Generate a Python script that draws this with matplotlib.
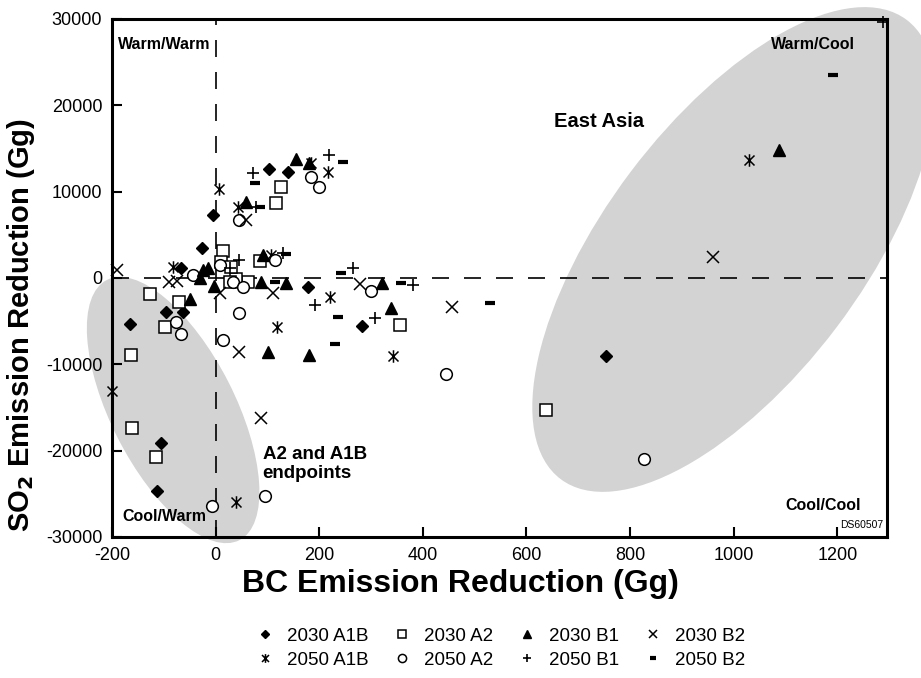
import matplotlib
matplotlib.use("Agg")
import matplotlib.pyplot as plt
import matplotlib.transforms as mtransforms
from matplotlib.patches import Ellipse
from matplotlib.path import Path

plt.rcParams['font.family'] = ['Liberation Sans', 'DejaVu Sans']
plt.rcParams['axes.unicode_minus'] = False

# BC (x) and SO2 (y) emission reductions, Gg
a1b_2030_x = [-166, -95, -63, -105, -114, -26, -5, 104, 140, 178, 283, 754, -66]
a1b_2030_y = [-5330, -3900, -3900, -19070, -24650, 3440, 7300, 12590, 12300, -1000, -5600, -9050, 1120]

a2_2030_x = [-126, -163, -161, -116, -97, -70, 14, 10, 85, 62, 117, 127, 356, 637, 40, 30, 27]
a2_2030_y = [-1850, -8900, -17400, -20760, -5640, -2740, 3100, 1800, 2000, -430, 8650, 10570, -5440, -15300, -150, 1300, -430]

b1_2030_x = [-50, -15, 59, 156, 181, 91, 88, 136, 322, 339, 101, 181, 1087, -3, -25, -30]
b1_2030_y = [-2400, 1120, 8840, 13750, 13300, 2660, -430, -620, -620, -3510, -8530, -8920, 14800, -900, 900, 0]

b2_2030_x = [-190, 59, 110, 278, 457, 46, 88, 960, 8, -75, -89]
b2_2030_y = [900, 6720, -1770, -700, -3400, -8600, -16200, 2480, -1700, -400, -430]

a1b_2050_x = [6, 43, 185, 217, 107, -82, 220, 119, 342, -200, 40, 1029]
a1b_2050_y = [10300, 8260, 13300, 12300, 2660, 1300, -2250, -5640, -9030, -13100, -25900, 13700]

a2_2050_x = [46, 185, 199, 114, 8, -44, 33, 53, 299, 46, 14, -77, -66, -6, 96, 445, 826]
a2_2050_y = [6720, 11730, 10500, 2080, 1500, 350, -430, -1000, -1500, -4000, -7180, -5060, -6500, -26400, -25240, -11100, -20950]

b1_2050_x = [72, 219, 78, 46, 130, 265, 191, 307, 381, 1288, 27]
b1_2050_y = [12200, 14240, 8260, 2080, 2860, 1120, -3130, -4670, -810, 29700, 1100]

b2_2050_x = [77, 246, 85, 135, 114, 243, 236, 230, 358, 529, 1192]
b2_2050_y = [11000, 13470, 8190, 2780, -430, 550, -4480, -7680, -620, -2860, 23500]

x_ticks = [-200, 0, 200, 400, 600, 800, 1000, 1200]
y_ticks = [-30000, -20000, -10000, 0, 10000, 20000, 30000]

# asterisk = x with a vertical bar
star = Path([(0, -1), (0, 1), (-0.8, -0.8), (0.8, 0.8), (-0.8, 0.8), (0.8, -0.8)],
            [Path.MOVETO, Path.LINETO, Path.MOVETO, Path.LINETO, Path.MOVETO, Path.LINETO])

fig = plt.figure(figsize=(9.21, 6.78), dpi=100)
ax = fig.add_axes([0.1216, 0.208, 0.8415, 0.764])
ax.set_xlim(-200, 1296)
ax.set_ylim(-30000, 30000)


def blob(cx, cy, w, h, ang):
    # ellipse sized in inches, centred on a data point
    tr = fig.dpi_scale_trans + mtransforms.ScaledTranslation(cx, cy, ax.transData)
    e = Ellipse((0, 0), w, h, angle=ang, transform=tr, facecolor='#d3d3d3',
                edgecolor='none', zorder=0, clip_on=False)
    ax.add_patch(e)


blob(1000, 3300, 5.75, 2.58, 53)
blob(-82, -15300, 2.92, 1.24, -63)

ax.axhline(0, color='black', lw=1.2, dashes=(10.2, 9.0), zorder=1)
ax.axvline(0, color='black', lw=1.2, dashes=(10.2, 9.0), zorder=1)

kw = dict(ls='none', color='black', clip_on=False, zorder=3)
ax.plot(a1b_2030_x, a1b_2030_y, marker='D', ms=6.4, label='2030 A1B', **kw)
ax.plot(a1b_2050_x, a1b_2050_y, marker=star, ms=9, mew=1.1, mfc='none', label='2050 A1B', **kw)
ax.plot(a2_2030_x, a2_2030_y, marker='s', ms=8.4, mew=1.1, mfc='white', label='2030 A2', **kw)
ax.plot(a2_2050_x, a2_2050_y, marker='o', ms=8.4, mew=1.1, mfc='white', label='2050 A2', **kw)
ax.plot(b1_2030_x, b1_2030_y, marker='^', ms=8.7, label='2030 B1', **kw)
ax.plot(b1_2050_x, b1_2050_y, marker='+', ms=9, mew=1.2, label='2050 B1', **kw)
ax.plot(b2_2030_x, b2_2030_y, marker='x', ms=8.5, mew=1.1, label='2030 B2', **kw)
ax.plot(b2_2050_x, b2_2050_y, marker='_', ms=6.5, mew=3, label='2050 B2', **kw)

for s in ax.spines.values():
    s.set_linewidth(2.2)
ax.set_xticks(x_ticks)
ax.set_yticks(y_ticks)
ax.tick_params(direction='in', length=7, width=1.5, labelsize=13, pad=7)

ax.set_xlabel('BC Emission Reduction (Gg)', fontsize=23, fontweight='bold', va='top')
ax.set_ylabel('SO$_\\mathbf{2}$ Emission Reduction (Gg)', fontsize=21, fontweight='bold')
ax.xaxis.set_label_coords(0.449, -0.061)
ax.yaxis.set_label_coords(-0.097, 0.41)

bold = dict(fontweight='bold', fontsize=11.5)
ax.text(-189, 27100, 'Warm/Warm', ha='left', va='center', **bold)
ax.text(1235, 27000, 'Warm/Cool', ha='right', va='center', **bold)
ax.text(-180, -27600, 'Cool/Warm', ha='left', va='center', **bold)
ax.text(1245, -26300, 'Cool/Cool', ha='right', va='center', **bold)
ax.text(1206, -28600, 'DS60507', ha='left', va='center', fontsize=7.5)
ax.text(654, 18070, 'East Asia', ha='left', va='center', fontsize=14.5, fontweight='bold')
ax.text(91, -21600, 'A2 and A1B\nendpoints', ha='left', va='center', fontsize=13.5,
        fontweight='bold', linespacing=1.15)

fig.legend(loc='center', bbox_to_anchor=(0.543, 0.044), ncol=4, frameon=False,
           fontsize=13.5, markerscale=0.7, handlelength=1.0, handletextpad=0.67,
           columnspacing=1.3, labelspacing=0.35, numpoints=1)

fig.savefig('out.png', dpi=100)
